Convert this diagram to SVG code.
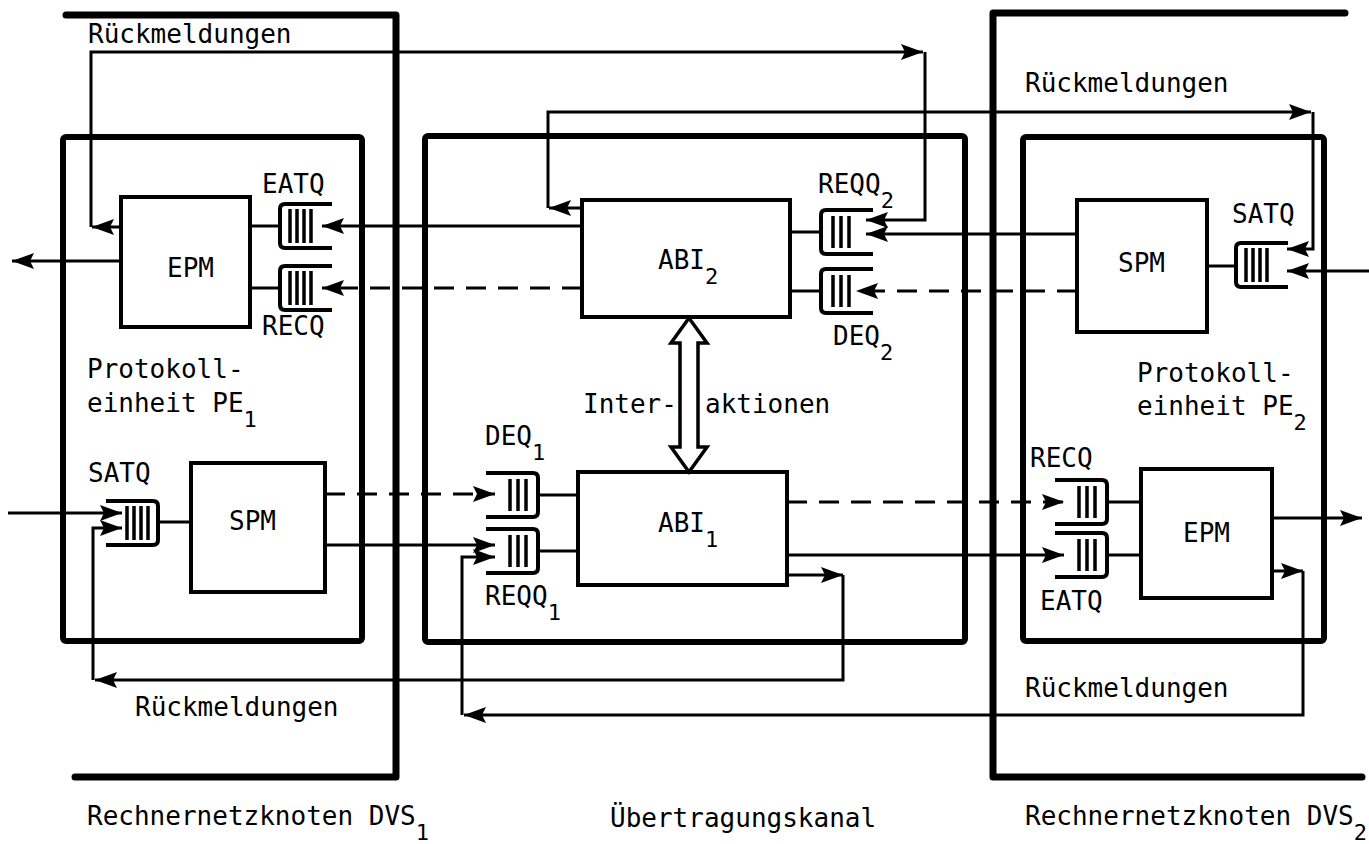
<svg xmlns="http://www.w3.org/2000/svg" width="1369" height="844" viewBox="0 0 1369 844">
<style>
.frame{fill:none;stroke:#000;stroke-width:7;stroke-linejoin:round;stroke-linecap:round}
.pe{fill:none;stroke:#000;stroke-width:6;stroke-linejoin:round}
.mod{fill:#fff;stroke:#000;stroke-width:4}
.c{fill:none;stroke:#000;stroke-width:3}
.d{fill:none;stroke:#000;stroke-width:3;stroke-dasharray:20 12}
.q{fill:none;stroke:#000;stroke-width:4}
.qb{fill:none;stroke:#000;stroke-width:3.5}
.t{font-family:"DejaVu Sans Mono","Liberation Mono",monospace;font-size:26px;fill:#000}
.s{font-size:22px}
.ia{fill:#fff;stroke:#000;stroke-width:3.5;stroke-linejoin:miter}
</style>
<defs>
<marker id="a" viewBox="0 0 22 16" refX="22" refY="8" markerWidth="22" markerHeight="16" markerUnits="userSpaceOnUse" orient="auto">
<path d="M0,0 L22,8 L0,16 L4,8 z" fill="#000"/>
</marker>
<g id="qR4"><path class="q" d="M52,0 H5 Q0,0 0,5 V39 Q0,44 5,44 H52"/><path class="qb" d="M10,5 V39 M17,5 V39 M24,5 V39 M31,5 V39"/></g>
<g id="qR3"><path class="q" d="M52,0 H5 Q0,0 0,5 V39 Q0,44 5,44 H52"/><path class="qb" d="M12,6 V38 M20,6 V38 M28,6 V38"/></g>
<g id="qL4"><path class="q" d="M0,0 H47 Q52,0 52,5 V39 Q52,44 47,44 H0"/><path class="qb" d="M21,5 V39 M28,5 V39 M35,5 V39 M42,5 V39"/></g>
<g id="qL3"><path class="q" d="M0,0 H47 Q52,0 52,5 V39 Q52,44 47,44 H0"/><path class="qb" d="M24,6 V38 M32,6 V38 M40,6 V38"/></g>
</defs>
<rect width="1369" height="844" fill="#fff"/>

<g id="frames">
<path class="frame" d="M66,15 H396 V777 H75"/>
<path class="frame" d="M1345,13 H993 V777 H1362"/>
<rect id="pe1" class="pe" x="63" y="137" width="299" height="504" rx="3"/>
<rect id="kanal" class="pe" x="425" y="136" width="540" height="506" rx="3"/>
<rect id="pe2" class="pe" x="1023" y="137" width="301" height="504" rx="3"/>
</g>

<g id="connectors">
<path class="c" d="M250,226 H280"/>
<path class="c" d="M250,288 H280"/>
<path class="c" d="M582,226 H322" marker-end="url(#a)"/>
<path class="d" d="M582,288 H322" marker-end="url(#a)"/>
<path class="c" d="M121,261 H12" marker-end="url(#a)"/>
<path class="c" d="M121,227 H92" marker-end="url(#a)"/>
<path class="c" d="M91,227 V52 H923" marker-end="url(#a)"/>
<path class="c" d="M925,52 V220 H866" marker-end="url(#a)"/>
<path class="c" d="M790,232 H821"/>
<path class="c" d="M790,291 H821"/>
<path class="c" d="M1077,234 H866" marker-end="url(#a)"/>
<path class="d" d="M1077,291 H856" marker-end="url(#a)"/>
<path class="c" d="M582,208 H549" marker-end="url(#a)"/>
<path class="c" d="M548,208 V112 H1311" marker-end="url(#a)"/>
<path class="c" d="M1313,112 V249 H1287" marker-end="url(#a)"/>
<path class="c" d="M1207,266 H1236"/>
<path class="c" d="M1369,271 H1287" marker-end="url(#a)"/>
<path class="c" d="M8,513 H122" marker-end="url(#a)"/>
<path class="c" d="M158,522 H191"/>
<path class="c" d="M787,575 H843" marker-end="url(#a)"/>
<path class="c" d="M843,575 V680 H95" marker-end="url(#a)"/>
<path class="c" d="M93,680 V528 H122" marker-end="url(#a)"/>
<path class="d" d="M325,494 H495" marker-end="url(#a)"/>
<path class="c" d="M325,545 H495" marker-end="url(#a)"/>
<path class="c" d="M538,495 H578"/>
<path class="c" d="M538,551 H578"/>
<path class="c" d="M1272,571 H1303" marker-end="url(#a)"/>
<path class="c" d="M1303,571 V715 H464" marker-end="url(#a)"/>
<path class="c" d="M462,715 V557 H495" marker-end="url(#a)"/>
<path class="d" d="M787,502 H1064" marker-end="url(#a)"/>
<path class="c" d="M787,555 H1064" marker-end="url(#a)"/>
<path class="c" d="M1107,502 H1141"/>
<path class="c" d="M1107,555 H1141"/>
<path class="c" d="M1272,518 H1362" marker-end="url(#a)"/>
</g>

<g id="queues">
<use href="#qR4" x="280" y="204"/>
<use href="#qR4" x="280" y="266"/>
<use href="#qR3" x="821" y="210"/>
<use href="#qR3" x="821" y="269"/>
<use href="#qR4" x="1236" y="243"/>
<use href="#qL4" x="106" y="501"/>
<use href="#qL3" x="486" y="473"/>
<use href="#qL3" x="486" y="529"/>
<use href="#qL3" x="1055" y="480"/>
<use href="#qL3" x="1055" y="533"/>
</g>

<g id="epm1"><rect class="mod" x="121" y="197" width="129" height="130"/><text class="t" x="167" y="277">EPM</text></g>
<g id="spm1"><rect class="mod" x="191" y="463" width="134" height="129"/><text class="t" x="229" y="530">SPM</text></g>
<g id="abi2"><rect class="mod" x="582" y="200" width="208" height="117"/><text class="t" x="658" y="269">ABI<tspan class="s" dy="15">2</tspan></text></g>
<g id="abi1"><rect class="mod" x="578" y="472" width="209" height="113"/><text class="t" x="658" y="532">ABI<tspan class="s" dy="15">1</tspan></text></g>
<g id="spm2"><rect class="mod" x="1077" y="200" width="130" height="132"/><text class="t" x="1118" y="272">SPM</text></g>
<g id="epm2"><rect class="mod" x="1141" y="469" width="131" height="129"/><text class="t" x="1183" y="542">EPM</text></g>

<g id="interaktionen">
<path class="ia" d="M689,318 L707,343 L698,343 L698,447 L707,447 L689,472 L671,447 L680,447 L680,343 L671,343 Z"/>
<text class="t" x="583" y="413">Inter-</text>
<text class="t" x="705" y="413">aktionen</text>
</g>

<g id="labels">
<text class="t" x="88" y="43">Rückmeldungen</text>
<text class="t" x="1025" y="92">Rückmeldungen</text>
<text class="t" x="1025" y="697">Rückmeldungen</text>
<text class="t" x="135" y="716">Rückmeldungen</text>
<text class="t" x="262" y="193">EATQ</text>
<text class="t" x="262" y="335">RECQ</text>
<text class="t" x="87" y="378">Protokoll-</text>
<text class="t" x="87" y="412">einheit PE<tspan class="s" dy="15">1</tspan></text>
<text class="t" x="88" y="482">SATQ</text>
<text class="t" x="818" y="193">REQQ<tspan class="s" dy="15">2</tspan></text>
<text class="t" x="833" y="345">DEQ<tspan class="s" dy="15">2</tspan></text>
<text class="t" x="485" y="445">DEQ<tspan class="s" dy="15">1</tspan></text>
<text class="t" x="485" y="605">REQQ<tspan class="s" dy="15">1</tspan></text>
<text class="t" x="1232" y="223">SATQ</text>
<text class="t" x="1137" y="382">Protokoll-</text>
<text class="t" x="1137" y="415">einheit PE<tspan class="s" dy="15">2</tspan></text>
<text class="t" x="1030" y="467">RECQ</text>
<text class="t" x="1040" y="610">EATQ</text>
<text class="t" x="87" y="825">Rechnernetzknoten DVS<tspan class="s" dy="15">1</tspan></text>
<text class="t" x="610" y="827">Übertragungskanal</text>
<text class="t" x="1025" y="825">Rechnernetzknoten DVS<tspan class="s" dy="15">2</tspan></text>
</g>
</svg>
